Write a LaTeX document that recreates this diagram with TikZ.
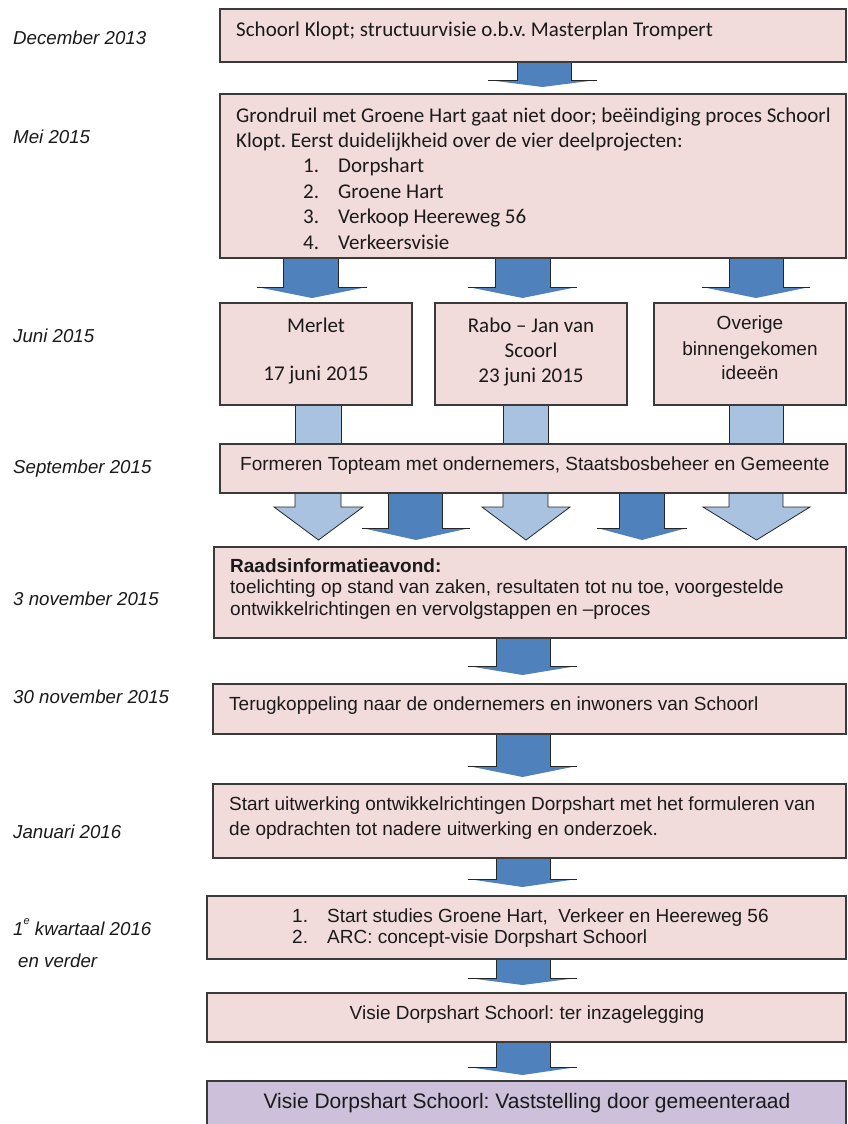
\documentclass[tikz,border=0pt]{standalone}
\usepackage{fontspec}
\newfontfamily\calfont{Carlito}
\newfontfamily\arfont{Liberation Sans}
\definecolor{boxpink}{HTML}{F2DCDB}
\definecolor{boxlila}{HTML}{CCC0DA}
\definecolor{darkblue}{HTML}{4F81BD}
\definecolor{lightblue}{HTML}{A9C2E0}
\definecolor{edge}{HTML}{3A3A3A}
\definecolor{txt}{HTML}{1A1A1A}
\tikzset{
  box/.style={draw=edge,line width=1.2pt,fill=boxpink},
  lastbox/.style={draw=edge,line width=1.2pt,fill=boxlila},
  arrline/.style={draw=black!85,line width=0.8pt},
  datelbl/.style={anchor=base west,inner sep=0pt,text=txt,font=\arfont\itshape\fontsize{18.7}{22}\selectfont},
  caltxt/.style={anchor=base west,inner sep=0pt,text=txt,font=\calfont\fontsize{21}{25}\selectfont},
  caltxtc/.style={anchor=base,inner sep=0pt,text=txt,font=\calfont\fontsize{21}{25}\selectfont},
  artxt/.style={anchor=base west,inner sep=0pt,text=txt,font=\arfont\fontsize{19}{22}\selectfont},
  artxtc/.style={anchor=base,inner sep=0pt,text=txt,font=\arfont\fontsize{19}{22}\selectfont},
}
% dark block arrow: shaft left, shaft right, head left, head right, top, base, tip
\newcommand\darkarr[7]{%
  \fill[darkblue] (#1,#5) -- (#1,#6) -- (#3,#6) -- ({(#3+#4)/2},#7) -- (#4,#6) -- (#2,#6) -- (#2,#5) -- cycle;
  \draw[arrline] (#1,#5) -- (#1,#6) -- (#3,#6);
  \draw[arrline] (#2,#5) -- (#2,#6) -- (#4,#6);
}
\newcommand\lightarr[7]{%
  \filldraw[fill=lightblue,arrline] (#1,#5) -- (#1,#6) -- (#3,#6) -- ({(#3+#4)/2},#7) -- (#4,#6) -- (#2,#6) -- (#2,#5);
}
\newcommand\lightshaft[4]{%
  \fill[lightblue] (#1,#3) rectangle (#2,#4);
  \draw[arrline] (#1,#3) -- (#1,#4);
  \draw[arrline] (#2,#3) -- (#2,#4);
}
\begin{document}
\frenchspacing
\begin{tikzpicture}[x=1pt,y=-1pt]
\useasboundingbox (0,0) rectangle (847,1124);
\fill[white] (0,0) rectangle (847,1124);

% arrows first (boxes drawn on top)
\darkarr{517}{571}{488}{597}{62}{80}{87}
\darkarr{283}{338}{257}{367}{258}{287}{298}
\darkarr{495}{550}{468}{577}{258}{287}{298}
\darkarr{729}{783}{702}{810}{258}{287}{298}
\lightshaft{295}{341}{405}{444}
\lightshaft{503}{548}{405}{444}
\lightshaft{729}{783}{405}{444}
\lightarr{295}{341}{274}{363}{493}{507}{540}
\darkarr{388}{442}{362}{470}{493}{528}{540}
\lightarr{503}{548}{482}{570}{493}{507}{540}
\darkarr{619}{664}{597}{687}{493}{528}{540}
\lightarr{729}{783}{703}{810}{493}{507}{540}
\darkarr{496}{550}{468}{577}{638}{666}{675}
\darkarr{496}{550}{468}{577}{734}{766}{777}
\darkarr{496}{550}{468}{577}{858}{879}{887}
\darkarr{496}{550}{468}{577}{959}{978}{985}
\darkarr{496}{550}{468}{577}{1042}{1067}{1075}

% boxes
\draw[box] (220,9) rectangle (846,62);
\draw[box] (220,94) rectangle (846,258);
\draw[box] (220,303) rectangle (412,405);
\draw[box] (435,303) rectangle (627,405);
\draw[box] (654,303) rectangle (846,405);
\draw[box] (220,444) rectangle (846,493);
\draw[box] (214,547) rectangle (846,638);
\draw[box] (213,684) rectangle (846,734);
\draw[box] (213,784) rectangle (846,858);
\draw[box] (207,896) rectangle (846,959);
\draw[box] (207,993) rectangle (846,1042);
\draw[lastbox] (207,1081) rectangle (846,1135);

% dates
\node[datelbl] (d1) at (13,45) {December 2013};
\node[datelbl] (d2) at (13,143) {Mei 2015};
\node[datelbl] (d3) at (13,342) {Juni 2015};
\node[datelbl] (d4) at (13,473) {September 2015};
\node[datelbl] (d5) at (13,605) {3 november 2015};
\node[datelbl] (d6) at (13,703) {30 november 2015};
\node[datelbl] (d7) at (13,838) {Januari 2016};
\node[datelbl] (d8) at (13,935) {1\raisebox{0.55em}{\fontsize{11}{12}\selectfont e} kwartaal 2016};
\node[datelbl] (d9) at (18,967) {en verder};

% box texts
\node[caltxt] (t1) at (236,37) {Schoorl Klopt; structuurvisie o.b.v. Masterplan Trompert};
\node[caltxt] (t2a) at (236,122) {Grondruil met Groene Hart gaat niet door; beëindiging proces Schoorl};
\node[caltxt] (t2b) at (236,147) {Klopt. Eerst duidelijkheid over de vier deelprojecten:};
\node[caltxt] (n1) at (303,172) {1.};
\node[caltxt] (l1) at (338,172) {Dorpshart};
\node[caltxt] (n2) at (303,198) {2.};
\node[caltxt] (l2) at (338,198) {Groene Hart};
\node[caltxt] (n3) at (303,223) {3.};
\node[caltxt] (l3) at (338,223) {Verkoop Heereweg 56};
\node[caltxt] (n4) at (303,249) {4.};
\node[caltxt] (l4) at (338,249) {Verkeersvisie};

\node[caltxtc] (m1) at (316,332) {Merlet};
\node[caltxtc] (m2) at (316,380) {17 juni 2015};
\node[caltxtc] (r1) at (531,332) {Rabo – Jan van};
\node[caltxtc] (r2) at (531,357) {Scoorl};
\node[caltxtc] (r3) at (531,382) {23 juni 2015};
\node[artxtc] (o1) at (750,329) {Overige};
\node[artxtc] (o2) at (750,355) {binnengekomen};
\node[artxtc] (o3) at (750,379) {ideeën};

\node[artxt] (tt) at (240,470) {Formeren Topteam met ondernemers, Staatsbosbeheer en Gemeente};

\node[artxt,font=\arfont\bfseries\fontsize{19}{22}\selectfont] (ra1) at (230,572) {Raadsinformatieavond:};
\node[artxt] (ra2) at (230,593) {toelichting op stand van zaken, resultaten tot nu toe, voorgestelde};
\node[artxt] (ra3) at (230,615) {ontwikkelrichtingen en vervolgstappen en –proces};

\node[artxt] (tk) at (229,710) {Terugkoppeling naar de ondernemers en inwoners van Schoorl};

\node[artxt] (su1) at (229,810) {Start uitwerking ontwikkelrichtingen Dorpshart met het formuleren van};
\node[artxt] (su2) at (229,835) {de opdrachten tot nadere uitwerking en onderzoek.};

\node[artxt] (s1n) at (292,922) {1.};
\node[artxt] (s1) at (327,922) {Start studies Groene Hart,\ \ Verkeer en Heereweg 56};
\node[artxt] (s2n) at (292,943) {2.};
\node[artxt] (s2) at (327,943) {ARC: concept-visie Dorpshart Schoorl};

\node[artxtc] (vi) at (527,1019) {Visie Dorpshart Schoorl: ter inzagelegging};
\node[artxtc,font=\arfont\fontsize{21}{24}\selectfont] (vs) at (527,1108) {Visie Dorpshart Schoorl: Vaststelling door gemeenteraad};
\end{tikzpicture}
\end{document}
